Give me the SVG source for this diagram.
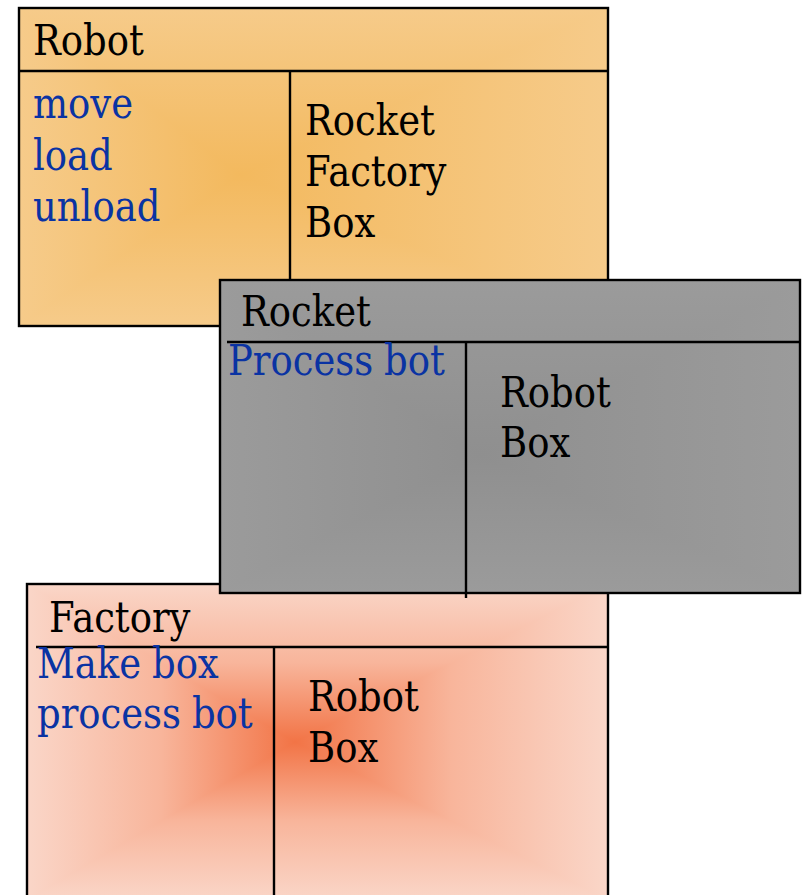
<svg xmlns="http://www.w3.org/2000/svg" width="802" height="895" viewBox="0 0 802 895">
  <style>
    .t { font-family: "DejaVu Serif", "Liberation Serif", serif; font-size: 42px; fill: #000; word-spacing: -1px; }
    .m { fill: #0a33a3; }
    .ln { stroke: #000; stroke-width: 2.4; fill: none; }
    .pg { shape-rendering: crispEdges; }
  </style>
  <defs>
    <!-- palettes: outer edge colour at 0, centre colour at 1 -->
    <linearGradient id="rob"><stop offset="0" stop-color="#f6cb8a"/><stop offset="1" stop-color="#f3b95e"/></linearGradient>
    <linearGradient id="roc"><stop offset="0" stop-color="#9b9b9b"/><stop offset="1" stop-color="#8f8f8f"/></linearGradient>
    <linearGradient id="fac"><stop offset="0" stop-color="#fad6c8"/><stop offset="0.5" stop-color="#f8b59b"/><stop offset="1" stop-color="#f27446"/></linearGradient>
    <!-- four directions per palette, for rectangular path fills -->
    <linearGradient id="robT" href="#rob" x1="0" y1="0" x2="0" y2="1"/>
    <linearGradient id="robB" href="#rob" x1="0" y1="1" x2="0" y2="0"/>
    <linearGradient id="robL" href="#rob" x1="0" y1="0" x2="1" y2="0"/>
    <linearGradient id="robR" href="#rob" x1="1" y1="0" x2="0" y2="0"/>
    <linearGradient id="rocT" href="#roc" x1="0" y1="0" x2="0" y2="1"/>
    <linearGradient id="rocB" href="#roc" x1="0" y1="1" x2="0" y2="0"/>
    <linearGradient id="rocL" href="#roc" x1="0" y1="0" x2="1" y2="0"/>
    <linearGradient id="rocR" href="#roc" x1="1" y1="0" x2="0" y2="0"/>
    <linearGradient id="facT" href="#fac" x1="0" y1="0" x2="0" y2="1"/>
    <linearGradient id="facB" href="#fac" x1="0" y1="1" x2="0" y2="0"/>
    <linearGradient id="facL" href="#fac" x1="0" y1="0" x2="1" y2="0"/>
    <linearGradient id="facR" href="#fac" x1="1" y1="0" x2="0" y2="0"/>
  </defs>
  <rect width="802" height="895" fill="#fff"/>

  <!-- Robot class box -->
  <g id="robot">
    <g class="pg">
      <polygon points="19,8 608,8 240,175" fill="url(#robT)"/>
      <polygon points="19,326 608,326 240,175" fill="url(#robB)"/>
      <polygon points="19,8 19,326 240,175" fill="url(#robL)"/>
      <polygon points="608,8 608,326 240,175" fill="url(#robR)"/>
    </g>
    <rect class="ln" x="19" y="8" width="589" height="318"/>
    <line class="ln" x1="19" y1="71" x2="608" y2="71"/>
    <line class="ln" x1="290" y1="71" x2="290" y2="282"/>
    <text class="t" transform="translate(33 55) scale(0.88 1)">Robot</text>
    <text class="t m" transform="translate(33 118) scale(0.88 1)">move</text>
    <text class="t m" transform="translate(33 170) scale(0.88 1)">load</text>
    <text class="t m" transform="translate(33 221) scale(0.88 1)">unload</text>
    <text class="t" transform="translate(305 135) scale(0.88 1)">Rocket</text>
    <text class="t" transform="translate(305 186) scale(0.88 1)">Factory</text>
    <text class="t" transform="translate(305 237) scale(0.88 1)">Box</text>
  </g>

  <!-- Factory class box -->
  <g id="factory">
    <g class="pg">
      <polygon points="27,584 608,584 295,742" fill="url(#facT)"/>
      <polygon points="27,900 608,900 295,742" fill="url(#facB)"/>
      <polygon points="27,584 27,900 295,742" fill="url(#facL)"/>
      <polygon points="608,584 608,900 295,742" fill="url(#facR)"/>
    </g>
    <rect class="ln" x="27" y="584" width="581" height="316"/>
    <line class="ln" x1="36" y1="647" x2="608" y2="647"/>
    <line class="ln" x1="274" y1="647" x2="274" y2="895"/>
    <text class="t" transform="translate(49 632) scale(0.88 1)">Factory</text>
    <text class="t m" transform="translate(37 678) scale(0.88 1)">Make box</text>
    <text class="t m" transform="translate(37 728) scale(0.88 1)">process bot</text>
    <text class="t" transform="translate(308 711) scale(0.88 1)">Robot</text>
    <text class="t" transform="translate(308 762) scale(0.88 1)">Box</text>
  </g>

  <!-- Rocket class box -->
  <g id="rocket">
    <g class="pg">
      <polygon points="220,280 801,280 480,455" fill="url(#rocT)"/>
      <polygon points="220,593 801,593 480,455" fill="url(#rocB)"/>
      <polygon points="220,280 220,593 480,455" fill="url(#rocL)"/>
      <polygon points="801,280 801,593 480,455" fill="url(#rocR)"/>
    </g>
    <rect class="ln" x="220" y="280" width="580" height="313"/>
    <line class="ln" x1="227" y1="342" x2="801" y2="342"/>
    <line class="ln" x1="466" y1="342" x2="466" y2="598"/>
    <text class="t" transform="translate(241 326) scale(0.88 1)">Rocket</text>
    <text class="t m" transform="translate(228 375) scale(0.88 1)">Process bot</text>
    <text class="t" transform="translate(500 407) scale(0.88 1)">Robot</text>
    <text class="t" transform="translate(500 457) scale(0.88 1)">Box</text>
  </g>
</svg>
